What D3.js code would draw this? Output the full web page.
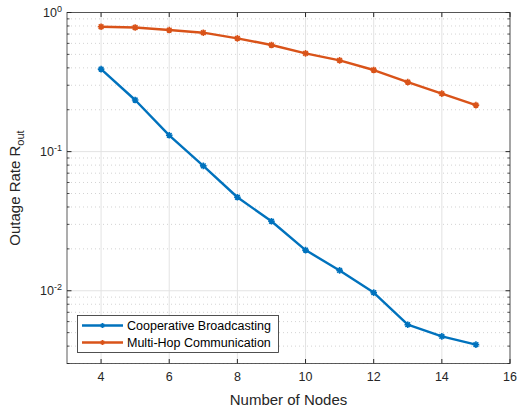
<!DOCTYPE html>
<html>
<head>
<meta charset="utf-8">
<script src="https://cdn.jsdelivr.net/npm/d3@7"></script>
<style>
  html, body { margin: 0; padding: 0; background: #fff; }
  svg { display: block; font-family: "Liberation Sans", Arial, Helvetica, sans-serif; }
</style>
</head>
<body>
<svg id="chart" width="518" height="410"></svg>
<script>
// Outage rate versus number of nodes
const nodes = [4, 5, 6, 7, 8, 9, 10, 11, 12, 13, 14, 15];
const cooperative = [0.392, 0.235, 0.131, 0.079, 0.047, 0.0316, 0.0196, 0.0140, 0.0097, 0.0057, 0.0047, 0.0041];
const multiHop = [0.79, 0.78, 0.748, 0.716, 0.652, 0.584, 0.508, 0.453, 0.386, 0.316, 0.261, 0.216];
const xTicks = [4, 6, 8, 10, 12, 14, 16];
const yDecades = [-2, -1, 0];
const seriesNames = ["Cooperative Broadcasting", "Multi-Hop Communication"];
const seriesColors = ["#0072BD", "#D95319"];

const svg = d3.select("#chart");
const m = { left: 67, right: 8, top: 12.5, bottom: 46.5 };
const W = 518, H = 410;
const x = d3.scaleLinear().domain([3, 16]).range([m.left, W - m.right]);
const y = d3.scaleLog().domain([0.003, 1]).range([H - m.bottom, m.top]);

const x0 = x.range()[0], x1 = x.range()[1];
const yb = y.range()[0], yt = y.range()[1];

// grid: minor dotted, major solid
const minor = [];
for (let e = -3; e < 0; e++) for (let k = 2; k <= 9; k++) {
  const v = k * Math.pow(10, e);
  if (v >= 0.003 && v < 1) minor.push(v);
}
const grid = svg.append("g");
grid.selectAll(".ymin").data(minor).join("line")
  .attr("x1", x0).attr("x2", x1)
  .attr("y1", d => y(d)).attr("y2", d => y(d))
  .attr("stroke", "#c8c8c8").attr("stroke-width", 0.8).attr("stroke-dasharray", "1,3");
grid.selectAll(".ymaj").data(yDecades.map(e => Math.pow(10, e))).join("line")
  .attr("x1", x0).attr("x2", x1)
  .attr("y1", d => y(d)).attr("y2", d => y(d))
  .attr("stroke", "#e3e3e3").attr("stroke-width", 1);
grid.selectAll(".xmaj").data(xTicks).join("line")
  .attr("x1", d => x(d)).attr("x2", d => x(d))
  .attr("y1", yb).attr("y2", yt)
  .attr("stroke", "#e3e3e3").attr("stroke-width", 1);

// axes with inward ticks on all four sides
const axColor = "#262626";
const axG = svg.append("g");
const tickLen = 4.5, minorLen = 2.5;
xTicks.forEach(t => {
  axG.append("line").attr("x1", x(t)).attr("x2", x(t)).attr("y1", yb).attr("y2", yb - tickLen).attr("stroke", axColor);
  axG.append("line").attr("x1", x(t)).attr("x2", x(t)).attr("y1", yt).attr("y2", yt + tickLen).attr("stroke", axColor);
  axG.append("text").attr("x", x(t)).attr("y", yb + 17.5)
    .attr("text-anchor", "middle").attr("font-size", 12.5).attr("fill", axColor).text(t);
});
yDecades.forEach(e => {
  const v = Math.pow(10, e);
  axG.append("line").attr("x1", x0).attr("x2", x0 + tickLen).attr("y1", y(v)).attr("y2", y(v)).attr("stroke", axColor);
  axG.append("line").attr("x1", x1).attr("x2", x1 - tickLen).attr("y1", y(v)).attr("y2", y(v)).attr("stroke", axColor);
  const tx = axG.append("text").attr("x", x0 - 5).attr("y", y(v) + 4.5)
    .attr("text-anchor", "end").attr("font-size", 12.5).attr("fill", axColor);
  tx.append("tspan").text("10");
  tx.append("tspan").attr("dy", -5.5).attr("font-size", 9).text(String(e));
});
minor.forEach(v => {
  axG.append("line").attr("x1", x0).attr("x2", x0 + minorLen).attr("y1", y(v)).attr("y2", y(v)).attr("stroke", axColor).attr("stroke-width", 0.8);
  axG.append("line").attr("x1", x1).attr("x2", x1 - minorLen).attr("y1", y(v)).attr("y2", y(v)).attr("stroke", axColor).attr("stroke-width", 0.8);
});
axG.append("rect").attr("x", x0).attr("y", yt).attr("width", x1 - x0).attr("height", yb - yt)
  .attr("fill", "none").attr("stroke", axColor).attr("stroke-width", 1).attr("opacity", 0.75);

// axis labels
svg.append("text").attr("x", (x0 + x1) / 2).attr("y", 405)
  .attr("text-anchor", "middle").attr("font-size", 15).attr("fill", axColor).text("Number of Nodes");
const yl = svg.append("text")
  .attr("transform", `translate(20,${(yt + yb) / 2}) rotate(-90)`)
  .attr("text-anchor", "middle").attr("font-size", 15).attr("fill", axColor);
yl.append("tspan").text("Outage Rate R");
yl.append("tspan").attr("dy", 4).attr("font-size", 11).text("out");

// star marker path
function star(cx, cy, r) {
  const p = [];
  for (let i = 0; i < 4; i++) {
    const a = i * Math.PI / 4;
    p.push(`M${cx - r * Math.cos(a)},${cy - r * Math.sin(a)}L${cx + r * Math.cos(a)},${cy + r * Math.sin(a)}`);
  }
  return p.join("");
}

const line = d3.line().x(d => x(d[0])).y(d => y(d[1]));
[cooperative, multiHop].forEach((vals, i) => {
  const pts = nodes.map((n, j) => [n, vals[j]]);
  const g = svg.append("g");
  g.append("path").datum(pts).attr("d", line)
    .attr("fill", "none").attr("stroke", seriesColors[i]).attr("stroke-width", 2.4)
    .attr("stroke-linejoin", "round");
  g.selectAll("path.mk").data(pts).join("path").attr("class", "mk")
    .attr("d", d => star(x(d[0]), y(d[1]), 3.3))
    .attr("stroke", seriesColors[i]).attr("stroke-width", 1.6).attr("fill", "none");
});

// legend
const lg = svg.append("g");
lg.append("rect").attr("x", 77.5).attr("y", 315.5).attr("width", 201).attr("height", 37)
  .attr("fill", "#fff").attr("stroke", axColor).attr("stroke-width", 0.8);
seriesNames.forEach((name, i) => {
  const cy = 325.5 + i * 17;
  lg.append("line").attr("x1", 82).attr("x2", 123).attr("y1", cy).attr("y2", cy)
    .attr("stroke", seriesColors[i]).attr("stroke-width", 2.4);
  lg.append("path").attr("d", star(102.5, cy, 2.5)).attr("stroke", seriesColors[i]).attr("stroke-width", 1.2);
  lg.append("text").attr("x", 127).attr("y", cy + 4.5).attr("font-size", 12.5).attr("fill", "#000").text(name);
});
</script>
</body>
</html>
